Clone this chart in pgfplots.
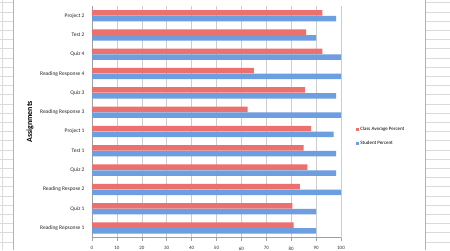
\documentclass[border=0pt]{standalone}
\usepackage{fontspec}
\setmainfont{Carlito}
\usepackage{pgfplots}
\pgfplotsset{compat=1.18}
\definecolor{redbar}{RGB}{236,112,110}
\definecolor{bluebar}{RGB}{108,158,224}
\definecolor{gridgray}{RGB}{205,205,205}
\definecolor{sheet}{RGB}{218,218,218}
\begin{document}
\begin{tikzpicture}[x=1bp,y=1bp]
\useasboundingbox (0,0) rectangle (450,250);
\clip (0,0) rectangle (450,250);
\fill[white] (0,0) rectangle (450,250);
\foreach \i in {0,...,27} {
  \draw[sheet,line width=0.6bp] (0,{247.3-9.2*\i}) -- (13,{247.3-9.2*\i});
  \draw[sheet,line width=0.6bp] (425,{247.3-9.2*\i}) -- (450,{247.3-9.2*\i});
}
\draw[sheet,line width=0.6bp] (2.5,0) -- (2.5,250);
\draw[gray!60,line width=0.8bp] (13,0) -- (13,250);
\draw[gray!60,line width=0.8bp] (425,0) -- (425,250);
\coordinate (A) at (92,12.3);
\begin{axis}[
  at={(A)}, anchor=south west,
  scale only axis, width=249bp, height=231.7bp,
  xbar, bar width=5.5bp,
  xmin=0, xmax=100, ymin=-0.5, ymax=11.5,
  axis x line*=bottom, axis y line*=left,
  axis line style={gray!75, line width=0.6bp},
  xtick={0,10,...,100},
  ytick={0,...,11},
  yticklabels={Reading Repsonse 1, Quiz 1, Reading Respose 2, Quiz 2, Test 1, Project 1, Reading Response 3, Quiz 3, Reading Response 4, Quiz 4, Test 2, Project 2},
  minor ytick={-0.5,0.5,...,11.5},
  major tick length=3bp, minor tick length=3bp,
  tick align=outside,
  tick style={gray!75, line width=0.6bp},
  ytick style={draw=none},
  minor tick style={gray!75, line width=0.6bp},
  xmajorgrids, grid style={gridgray, line width=0.6bp},
  /pgf/number format/assume math mode=true,
  x tick label style={font=\fontsize{5}{6}\selectfont, text=black!80, yshift=-2.5bp},
  y tick label style={font=\fontsize{5.5}{6.5}\selectfont, text=black!85, xshift=-1bp},
  ylabel={Assignments},
  ylabel style={font=\bfseries\fontsize{8}{9}\selectfont, at={(axis description cs:-0.249,0.5)}, anchor=center},
  legend style={at={(axis description cs:1.06,0.437)}, anchor=west, draw=none, fill=none,
    font=\fontsize{5}{6}\selectfont, row sep=7bp, inner sep=0pt,
    nodes={inner sep=1bp}},
  legend cell align=left,
]
\addplot[fill=redbar, draw=none, bar shift=2.9bp,
  legend image code/.code={\fill[redbar] (0bp,-1.6bp) rectangle (3.2bp,1.6bp);}]
  coordinates {(81,0) (80.5,1) (83.5,2) (86.5,3) (85,4) (88,5) (62.5,6) (85.5,7) (65,8) (92.5,9) (86,10) (92.5,11)};
\addplot[fill=bluebar, draw=none, bar shift=-2.9bp,
  legend image code/.code={\fill[bluebar] (0bp,-1.6bp) rectangle (3.2bp,1.6bp);}]
  coordinates {(90,0) (90,1) (100,2) (98,3) (98,4) (97,5) (100,6) (98,7) (100,8) (100,9) (90,10) (98,11)};
\legend{Class Average Percent, Student Percent}
\end{axis}
\end{tikzpicture}
\end{document}
